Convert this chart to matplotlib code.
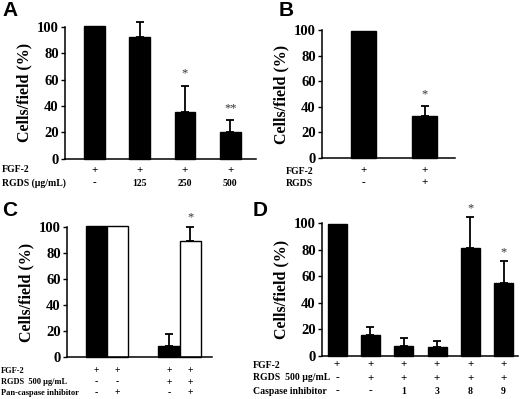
import matplotlib
matplotlib.use('Agg')
import matplotlib.pyplot as plt
import matplotlib.transforms as mtrans

W, H = 520, 399
SERIF = 'Liberation Serif'

# ---- data ----
a_vals = [101, 92.5, 35.5, 20.5]
a_err = [0, 11.5, 19.5, 8.5]
a_stars = ['', '', '*', '**']
a_rows = {'FGF-2': ['+', '+', '+', '+'],
          'RGDS (\u00b5g/mL)': ['-', '125', '250', '500']}

b_vals = [99.5, 33]
b_err = [0, 8]
b_stars = ['', '*']
b_rows = {'FGF-2': ['+', '+'],
          'RGDS': ['-', '+']}

c_vals = [101, 101, 8.5, 89]
c_err = [0, 0, 9, 11]
c_stars = ['', '', '', '*']
c_fill = ['black', 'white', 'black', 'white']
c_rows = {'FGF-2': ['+', '+', '+', '+'],
          'RGDS  500 \u00b5g/mL': ['-', '-', '+', '+'],
          'Pan-caspase inhibitor': ['-', '+', '-', '+']}

d_vals = [99.5, 16, 7.5, 7, 81, 55]
d_err = [0, 6, 6, 4, 23.5, 16.5]
d_stars = ['', '', '', '', '*', '*']
d_rows = {'FGF-2': ['+', '+', '+', '+', '+', '+'],
          'RGDS  500 \u00b5g/mL': ['-', '+', '+', '+', '+', '+'],
          'Caspase inhibitor': ['-', '-', '1', '3', '8', '9']}

fig = plt.figure(figsize=(W / 100, H / 100), dpi=100)


def panel(x0, x1, y0, y100, xlim):
    ax = fig.add_axes([x0 / W, 1 - y0 / H, (x1 - x0) / W, (y0 - y100) / H])
    ax.set_xlim(*xlim)
    ax.set_ylim(0, 100)
    ax.set_yticks([0, 20, 40, 60, 80, 100])
    ax.set_xticks([])
    for s in ['top', 'right']:
        ax.spines[s].set_visible(False)
    for s in ['left', 'bottom']:
        ax.spines[s].set_linewidth(1.1)
    ax.tick_params(axis='y', direction='out', length=3, width=1, pad=1.5)
    for t in ax.get_yticklabels():
        t.set_fontfamily(SERIF)
        t.set_fontweight('bold')
        t.set_fontsize(10.5)
    ax.set_ylabel('Cells/field (%)', fontfamily=SERIF, fontweight='bold',
                  fontsize=11.5, labelpad=3)
    return ax


def draw(ax, xs, vals, err, stars, star_off, width, colors='black'):
    ax.bar(xs, vals, width=width, color=colors, edgecolor='black',
           linewidth=1, clip_on=False, zorder=2)
    ex = [x for x, e in zip(xs, err) if e > 0]
    ev = [v for v, e in zip(vals, err) if e > 0]
    ee = [e for e in err if e > 0]
    ax.errorbar(ex, ev, yerr=[[0] * len(ee), ee], fmt='none', ecolor='black',
                elinewidth=1.3, capsize=3, capthick=1.3, clip_on=False, zorder=1)
    for x, v, e, s in zip(xs, vals, err, stars):
        if s:
            ax.annotate(s, (x, v + e), xytext=(0, star_off), textcoords='offset points',
                        ha='center', va='center', fontsize=9, color='#333333',
                        fontfamily=SERIF, annotation_clip=False)


def rows(ax, xs, table, ys, name_x, fs):
    tr = mtrans.blended_transform_factory(ax.transData, fig.transFigure)
    for (name, vals), y in zip(table.items(), ys):
        fig.text(name_x / W, 1 - y / H, name, ha='left', va='center',
                 fontfamily=SERIF, fontweight='bold', fontsize=fs)
        for x, v in zip(xs, vals):
            ax.text(x, 1 - y / H, v, transform=tr, ha='center', va='center',
                    fontfamily=SERIF, fontweight='bold',
                    fontsize=fs + 1 if v in '+-' else fs)


def letter(x, y, s):
    fig.text(x / W, 1 - y / H, s, ha='left', va='top', fontfamily='Liberation Sans',
             fontweight='bold', fontsize=15)


# A
axA = panel(65, 256, 158.5, 27, (-0.65, 3.57))
xa = list(range(4))
draw(axA, xa, a_vals, a_err, a_stars, 9, 0.46)
rows(axA, xa, a_rows, [170, 183], 2, 7)
letter(2, 1, 'A')

# B
axB = panel(322, 455, 158, 30, (-0.67, 1.49))
xb = [0, 1]
draw(axB, xb, b_vals, b_err, b_stars, 8, 0.41)
rows(axB, xb, b_rows, [171, 183], 286, 7)
letter(279, 1, 'B')

# C
axC = panel(67, 212, 357, 227, (-1.38, 5.42))
xc = [0, 1, 3.4, 4.4]
draw(axC, xc, c_vals, c_err, c_stars, 7, 1.0, c_fill)
rows(axC, xc, c_rows, [371, 382, 393], 1, 6)
letter(2, 201, 'C')

# D
axD = panel(322, 518, 356, 223, (-0.45, 5.43))
xd = list(range(6))
draw(axD, xd, d_vals, d_err, d_stars, 6, 0.57)
rows(axD, xd, d_rows, [365, 378, 391], 253, 7)
letter(253, 201, 'D')

fig.savefig('out.png', dpi=100)
